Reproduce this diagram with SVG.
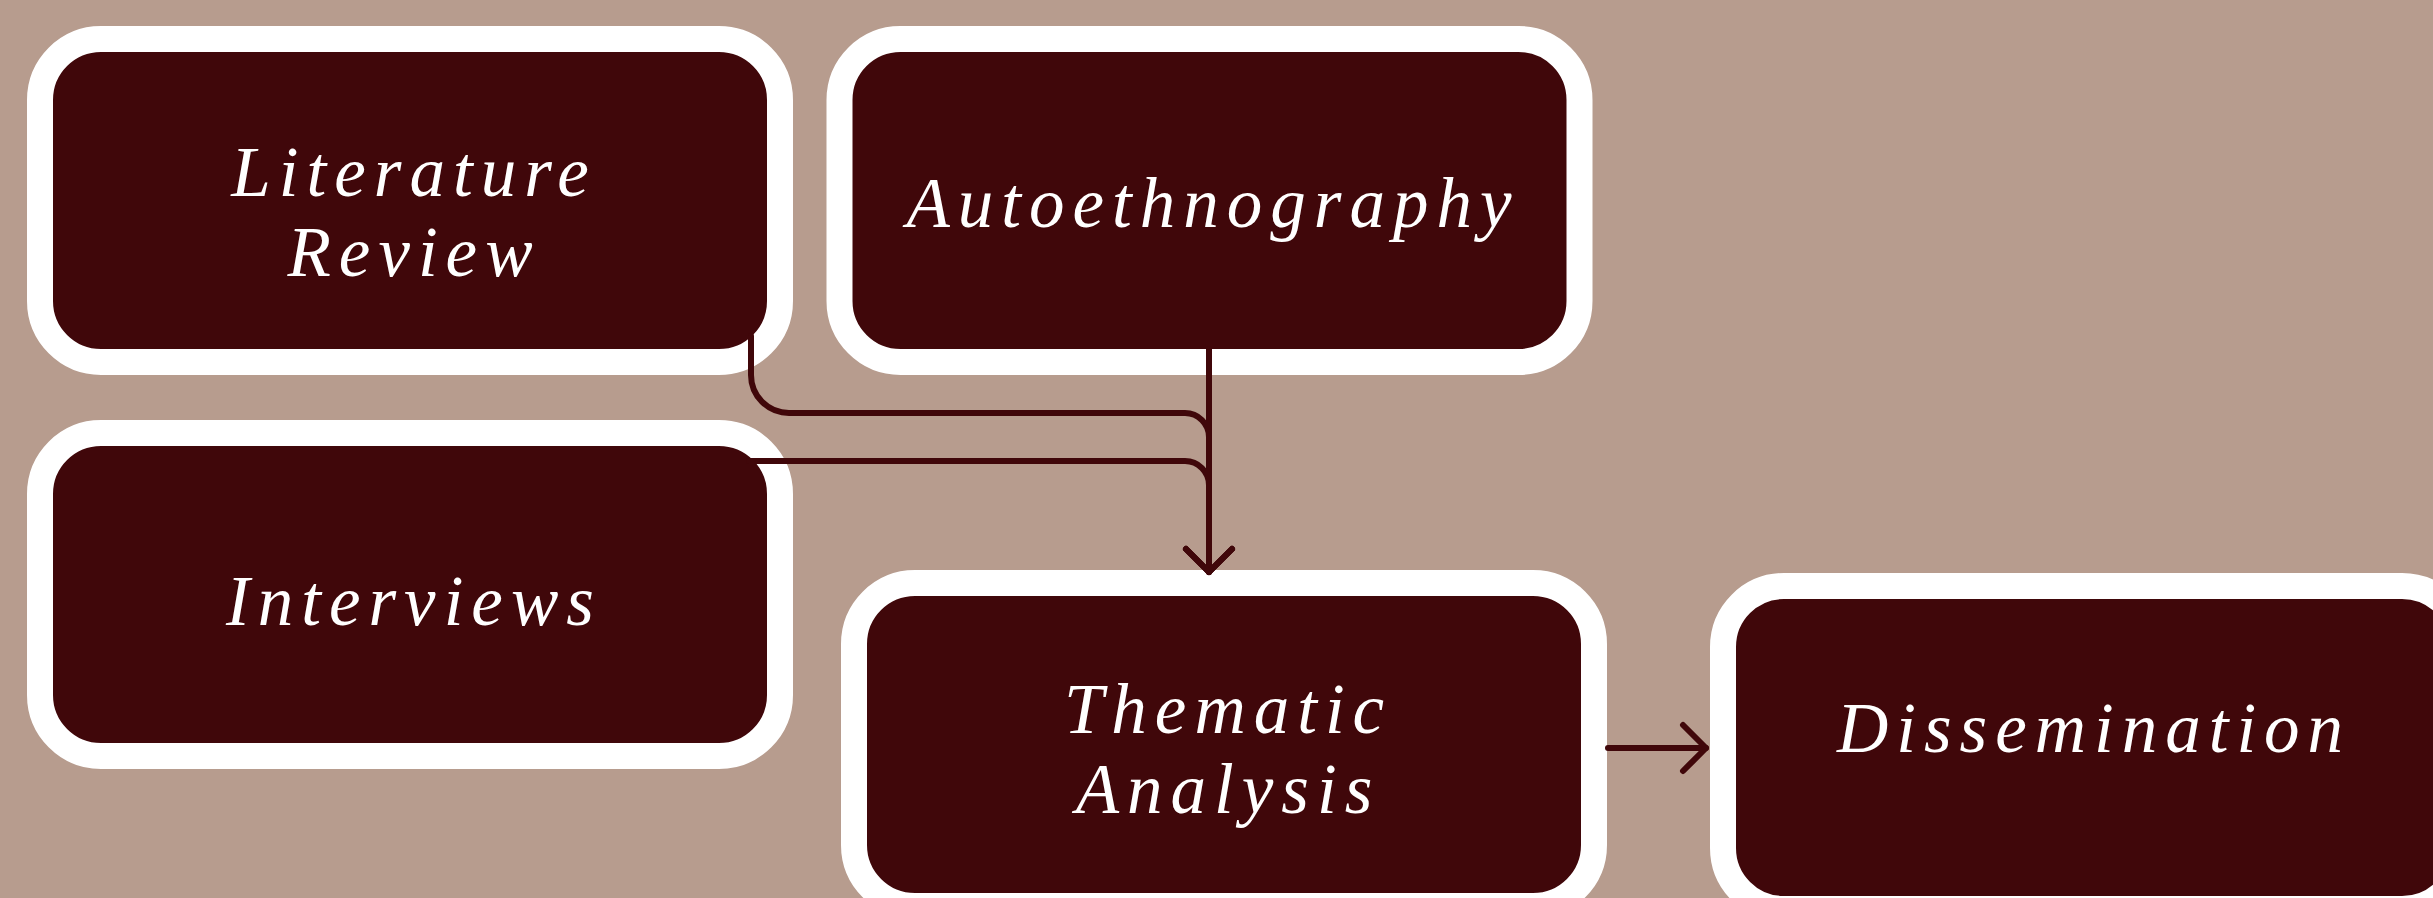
<svg xmlns="http://www.w3.org/2000/svg" width="2433" height="898" viewBox="0 0 2433 898">
<style>
.box{fill:#40070A;stroke:#FFFFFF;stroke-width:26}
.lbl{fill:#FFFFFF;font-family:"Liberation Serif","Times New Roman",serif;font-style:italic;font-size:71px;letter-spacing:8px;text-anchor:middle}
.edge{fill:none;stroke:#40070A;stroke-width:6;stroke-linecap:round;stroke-linejoin:round}
</style>
<defs>
<marker id="arr" markerUnits="userSpaceOnUse" markerWidth="60" markerHeight="60" refX="0" refY="0" orient="auto" overflow="visible" viewBox="-30 -30 60 60">
<path d="M-23,-23 L0,0 L-23,23" fill="none" stroke="#40070A" stroke-width="6" stroke-linecap="round" stroke-linejoin="round"/>
</marker>
</defs>
<rect x="0" y="0" width="2433" height="898" fill="#B79C8E"/>
<g id="node-literature">
<rect class="box" x="40" y="39" width="740" height="323" rx="61" ry="61"/>
<text class="lbl" x="414" y="196">Literature</text>
<text class="lbl" x="414" y="276">Review</text>
</g>
<g id="node-autoethnography">
<rect class="box" x="839.5" y="39" width="740" height="323" rx="61" ry="61"/>
<text class="lbl" x="1213" y="227">Autoethnography</text>
</g>
<g id="node-interviews">
<rect class="box" x="40" y="433" width="740" height="323" rx="61" ry="61"/>
<text class="lbl" x="414" y="625">Interviews</text>
</g>
<g id="node-thematic">
<rect class="box" x="854" y="583" width="740" height="323" rx="61" ry="61"/>
<text class="lbl" x="1228" y="733">Thematic</text>
<text class="lbl" x="1228" y="813">Analysis</text>
</g>
<g id="node-dissemination">
<rect class="box" x="1723" y="586" width="740" height="323" rx="61" ry="61"/>
<text class="lbl" x="2094" y="752">Dissemination</text>
</g>
<g id="connectors">
<path class="edge" d="M751,336 V375 A38,38 0 0 0 789,413 H1185 A24,24 0 0 1 1209,437 V572" marker-end="url(#arr)"/>
<path class="edge" d="M749,461 H1185 A24,24 0 0 1 1209,485 V572" marker-end="url(#arr)"/>
<path class="edge" d="M1209,349 V572" marker-end="url(#arr)"/>
<path class="edge" d="M1608,748 H1706" marker-end="url(#arr)"/>
</g>
</svg>
